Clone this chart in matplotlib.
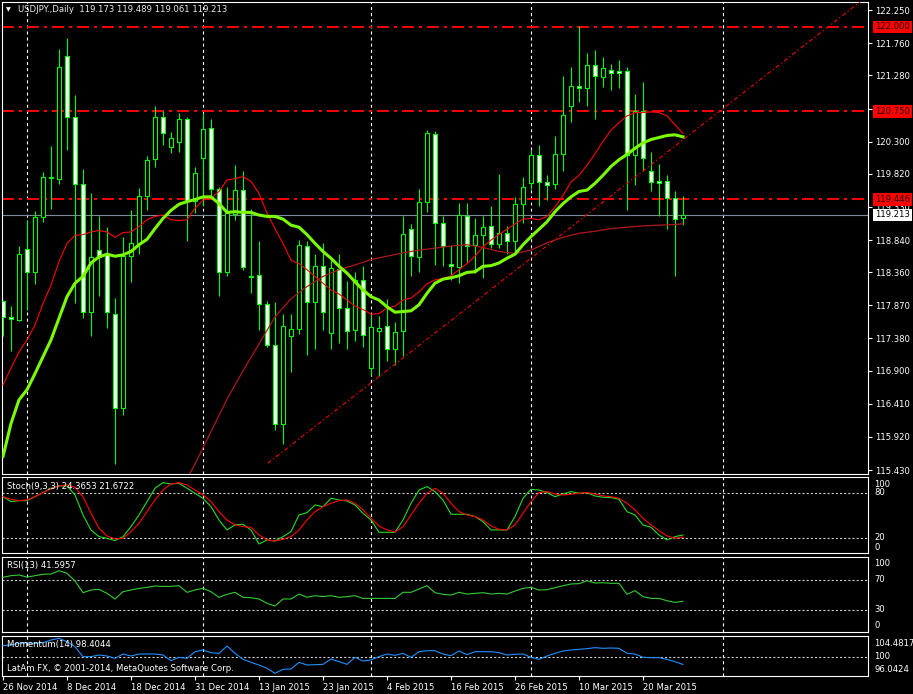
import matplotlib
matplotlib.use('Agg')
import matplotlib.pyplot as plt
import numpy as np

W, H = 913, 694
plt.rcParams['font.family'] = ['DejaVu Sans']
plt.rcParams['lines.scale_dashes'] = False
FS = 6.1

# ---------------- data ----------------
opens = [117.93, 117.70, 117.66, 118.70, 118.36, 119.18, 119.76, 119.75, 121.57, 120.66,
         119.67, 117.78, 118.69, 118.64, 117.75, 116.35, 118.61, 118.79, 119.50, 120.04,
         120.66, 120.22, 120.30, 120.64, 119.42, 120.05, 120.50, 119.60, 118.37, 119.22,
         119.58, 118.31, 118.32, 117.89, 117.29, 116.11, 117.41, 117.52, 118.75, 117.92,
         118.46, 117.46, 118.41, 117.83, 117.50, 118.24, 116.94, 117.49, 117.56, 117.22,
         117.49, 119.00, 118.59, 119.40, 120.41, 119.09, 118.49, 118.44, 119.19, 118.76,
         118.91, 119.05, 118.78, 118.94, 118.82, 119.38, 119.68, 120.10, 119.70, 119.67,
         120.11, 120.82, 121.13, 121.10, 121.43, 121.26, 121.36, 121.35, 121.35, 120.10,
         120.75, 119.86, 119.72, 119.72, 119.46, 119.173]
highs = [117.95, 117.86, 118.75, 119.14, 119.27, 119.85, 120.23, 121.67, 121.83, 120.99,
         119.89, 119.53, 119.19, 119.03, 117.98, 118.88, 119.29, 119.61, 120.08, 120.82,
         120.76, 120.44, 120.73, 120.67, 119.93, 120.73, 120.63, 119.63, 119.63, 119.95,
         119.86, 119.30, 118.83, 117.94, 117.92, 117.74, 117.75, 118.84, 118.82, 118.64,
         118.79, 118.57, 118.63, 118.23, 118.36, 118.45, 117.75, 117.71, 117.96, 117.62,
         119.19, 119.08, 119.59, 120.47, 120.46, 119.20, 118.77, 119.39, 119.39, 119.17,
         119.19, 119.34, 119.82, 119.05, 119.48, 119.78, 120.17, 120.25, 119.80, 120.38,
         121.27, 121.40, 122.01, 121.62, 121.66, 121.55, 121.45, 121.51, 121.41, 121.01,
         121.18, 120.15, 119.97, 119.80, 119.56, 119.489]
lows = [117.41, 117.20, 117.64, 117.80, 118.19, 119.10, 119.30, 119.67, 120.17, 117.90,
        117.68, 117.41, 118.01, 117.53, 115.52, 116.25, 118.22, 118.64, 119.29, 119.93,
        120.25, 120.13, 120.15, 118.83, 119.24, 119.35, 119.50, 118.01, 118.30, 119.14,
        118.39, 118.06, 117.51, 117.26, 116.02, 115.81, 116.89, 117.45, 117.14, 117.22,
        117.50, 117.23, 117.31, 117.22, 117.35, 117.26, 116.84, 116.83, 117.04, 116.99,
        117.12, 118.30, 118.37, 119.26, 118.47, 118.45, 118.25, 118.21, 118.52, 118.35,
        118.27, 118.72, 118.72, 118.64, 118.64, 119.09, 119.60, 119.35, 119.43, 119.60,
        119.87, 120.59, 120.89, 120.83, 120.64, 121.11, 121.07, 121.10, 119.28, 119.65,
        119.87, 119.56, 119.19, 119.00, 118.30, 119.061]
closes = [117.70, 117.67, 118.64, 118.36, 119.18, 119.77, 119.78, 121.40, 120.66, 119.67,
          117.78, 118.59, 118.59, 117.78, 116.35, 118.61, 118.79, 119.49, 120.03, 120.66,
          120.43, 120.36, 120.64, 119.42, 119.83, 120.48, 119.60, 118.36, 119.24, 119.58,
          118.44, 118.29, 117.89, 117.29, 116.11, 117.56, 117.52, 118.77, 117.92, 118.46,
          117.77, 118.42, 117.83, 117.49, 118.25, 117.43, 117.55, 117.53, 117.22, 117.47,
          118.93, 118.60, 119.40, 120.42, 119.09, 118.75, 118.46, 119.21, 118.75, 118.91,
          119.04, 118.78, 118.94, 118.83, 119.38, 119.62, 120.10, 119.70, 119.65, 120.11,
          120.69, 121.13, 121.10, 121.43, 121.27, 121.39, 121.31, 121.31, 120.10, 120.75,
          120.05, 119.70, 119.68, 119.46, 119.15, 119.213]

ma_green = [115.63, 116.12, 116.47, 116.62, 116.86, 117.11, 117.36, 117.68, 118.00, 118.20,
            118.30, 118.50, 118.59, 118.63, 118.60, 118.62, 118.67, 118.77, 118.85, 119.01,
            119.16, 119.28, 119.37, 119.41, 119.44, 119.48, 119.48, 119.38, 119.25, 119.26,
            119.25, 119.25, 119.21, 119.19, 119.19, 119.15, 119.06, 119.03, 118.92, 118.79,
            118.67, 118.57, 118.45, 118.35, 118.22, 118.10, 118.00, 117.95, 117.85, 117.77,
            117.78, 117.79, 117.88, 118.05, 118.20, 118.26, 118.28, 118.31, 118.36, 118.37,
            118.45, 118.46, 118.50, 118.57, 118.63, 118.77, 118.89, 119.00, 119.11, 119.26,
            119.38, 119.48, 119.56, 119.58, 119.68, 119.80, 119.93, 120.03, 120.11, 120.20,
            120.28, 120.33, 120.36, 120.39, 120.40, 120.37]
ma_red = [116.69, 116.94, 117.18, 117.36, 117.58, 117.90, 118.17, 118.52, 118.79, 118.91,
          118.92, 118.96, 118.98, 118.96, 118.88, 118.95, 118.96, 119.04, 119.14, 119.19,
          119.21, 119.14, 119.13, 119.14, 119.31, 119.43, 119.46, 119.56, 119.73, 119.75,
          119.78, 119.71, 119.53, 119.24, 119.01, 118.79, 118.54, 118.49, 118.40, 118.30,
          118.20, 118.10, 118.04, 117.95, 117.86, 117.81, 117.74, 117.75, 117.83, 117.86,
          117.95, 117.98, 118.07, 118.19, 118.25, 118.27, 118.31, 118.40, 118.49, 118.60,
          118.74, 118.84, 118.92, 119.00, 119.08, 119.15, 119.16, 119.14, 119.19, 119.33,
          119.50, 119.70, 119.80, 119.95, 120.12, 120.30, 120.47, 120.58, 120.68, 120.73,
          120.73, 120.74, 120.73, 120.68, 120.55, 120.42]
slow_idx = [22, 23, 24, 26, 28, 30, 32, 34, 36, 38, 40, 42, 44, 46, 48, 50, 52, 54, 56,
            58, 60, 62, 64, 66, 68, 70, 72, 74, 76, 78, 80, 82, 84, 85]
slow_val = [115.10, 115.30, 115.52, 116.00, 116.48, 116.90, 117.30, 117.70, 117.97, 118.15,
            118.30, 118.40, 118.47, 118.55, 118.60, 118.65, 118.69, 118.72, 118.75, 118.77,
            118.73, 118.67, 118.64, 118.69, 118.80, 118.88, 118.94, 118.97, 119.01, 119.03,
            119.05, 119.06, 119.07, 119.08]
trend_idx = [33.1, 108.2]
trend_val = [115.53, 122.47]
levels = [122.000, 120.750, 119.446]
bid = 119.213
price_ticks = [122.25, 121.76, 121.28, 120.79, 120.30, 119.82, 119.33, 118.84, 118.36,
               117.87, 117.38, 116.90, 116.41, 115.92, 115.43]

stoch_k = [75.5, 68.9, 70.2, 70.2, 75.5, 80.9, 86.7, 89.8, 89.8, 77.8,
           51.1, 31.1, 22.2, 20.0, 16.9, 22.2, 35.5, 51.1, 68.9, 86.7,
           94.2, 92.4, 93.3, 86.7, 80.0, 73.3, 62.2, 44.4, 31.1, 37.8,
           38.7, 31.1, 12.4, 17.8, 16.4, 22.2, 28.9, 51.1, 54.2, 64.4,
           62.2, 73.3, 71.1, 69.8, 64.4, 53.3, 44.4, 28.0, 28.0, 28.0,
           44.4, 66.7, 84.4, 88.9, 82.2, 71.1, 52.0, 52.0, 52.0, 48.9,
           42.2, 31.1, 31.1, 31.1, 48.9, 73.3, 85.3, 84.4, 80.9, 75.5,
           79.1, 82.2, 80.0, 80.9, 76.4, 74.7, 74.2, 72.0, 55.5, 51.1,
           37.8, 34.7, 24.4, 17.8, 22.2, 24.4]
stoch_d = [75.5, 72.0, 70.2, 71.1, 75.5, 80.9, 85.8, 89.8, 91.1, 88.0,
           75.5, 53.3, 33.3, 23.1, 19.1, 20.0, 28.9, 40.0, 55.5, 71.1,
           84.4, 92.4, 94.2, 91.1, 84.4, 77.8, 68.9, 55.5, 44.4, 37.8,
           35.5, 34.7, 24.4, 17.8, 16.4, 18.7, 22.2, 31.1, 44.4, 55.5,
           62.2, 66.7, 70.2, 71.1, 66.7, 57.8, 46.7, 36.4, 31.1, 28.4,
           35.5, 51.1, 66.7, 80.0, 86.7, 80.0, 66.7, 55.5, 51.1, 48.9,
           44.4, 36.4, 32.0, 31.1, 37.8, 53.3, 68.9, 80.9, 82.2, 79.1,
           77.8, 78.7, 80.0, 80.9, 79.1, 76.4, 75.5, 73.3, 66.7, 57.8,
           46.7, 37.8, 30.2, 23.1, 20.0, 21.7]
rsi = [73.6, 75.8, 76.7, 74.0, 75.8, 77.6, 78.0, 82.4, 78.9, 68.7,
       53.1, 56.7, 57.6, 52.2, 44.7, 54.4, 56.7, 58.9, 60.2, 62.0,
       61.5, 61.5, 62.4, 53.6, 56.7, 58.9, 54.4, 46.9, 50.9, 53.6,
       46.9, 46.4, 44.7, 38.9, 35.3, 44.7, 44.7, 51.3, 46.9, 49.1,
       47.8, 49.1, 46.9, 47.8, 49.1, 45.5, 45.5, 45.5, 45.5, 45.5,
       53.6, 53.6, 58.0, 62.4, 53.1, 50.9, 50.0, 53.6, 51.3, 52.2,
       53.1, 51.3, 52.2, 51.3, 55.3, 58.9, 60.2, 56.7, 57.1, 59.8,
       62.4, 64.7, 65.1, 69.1, 66.0, 66.4, 65.6, 65.6, 50.9, 55.8,
       47.8, 45.5, 45.5, 42.4, 40.2, 41.6]
momentum = [102.37, 102.51, 102.86, 103.00, 102.86, 103.00, 103.56, 103.92, 103.21, 102.16,
            100.05, 100.05, 100.40, 100.19, 99.70, 100.61, 100.19, 100.61, 100.61, 100.61,
            100.40, 99.21, 99.91, 99.70, 101.10, 101.46, 100.89, 100.75, 102.30, 100.75,
            99.49, 98.85, 98.29, 97.59, 96.53, 97.38, 97.45, 98.85, 98.29, 98.36,
            98.43, 99.56, 98.99, 98.43, 99.91, 99.13, 99.35, 100.05, 100.61, 100.33,
            100.75, 99.91, 101.10, 101.31, 101.31, 100.61, 100.26, 101.24, 100.47, 101.10,
            101.10, 101.10, 100.89, 100.40, 100.54, 100.61, 99.91, 99.49, 100.19, 100.75,
            101.24, 101.46, 101.60, 101.74, 101.95, 101.81, 101.88, 101.81, 100.75, 100.61,
            99.91, 99.84, 99.84, 99.49, 98.99, 98.40]

date_idx = [0, 8, 16, 24, 32, 40, 48, 56, 64, 72, 80]
date_labels = ['26 Nov 2014', '8 Dec 2014', '18 Dec 2014', '31 Dec 2014', '13 Jan 2015',
               '23 Jan 2015', '4 Feb 2015', '16 Feb 2015', '26 Feb 2015', '10 Mar 2015',
               '20 Mar 2015']
month_sep_idx = [3, 25, 46, 66, 90]

# ---------------- figure ----------------
fig = plt.figure(figsize=(W / 100, H / 100), dpi=100, facecolor='black')


def rect(l, t, r, b):
    return [l / W, 1 - b / H, (r - l) / W, (b - t) / H]


ax = fig.add_axes(rect(2, 2, 868, 474))
ax_st = fig.add_axes(rect(2, 477, 868, 553))
ax_rsi = fig.add_axes(rect(2, 557, 868, 632))
ax_mom = fig.add_axes(rect(2, 636, 868, 676))

XL = (-0.125, 108.125)
for a in (ax, ax_st, ax_rsi, ax_mom):
    a.set_facecolor('black')
    a.set_xlim(*XL)
    for s in a.spines.values():
        s.set_color('white')
        s.set_linewidth(0.8)
    a.tick_params(axis='x', bottom=False, labelbottom=False)
    a.tick_params(axis='y', left=False, labelleft=False, right=False, labelright=False)
    for m in month_sep_idx:
        a.axvline(m, color='white', lw=0.8, ls=(0, (2.2, 2.2)), zorder=1)

# ---- main price panel ----
ax.set_ylim(115.371, 122.369)
x = np.arange(len(opens))
o = np.array(opens); c = np.array(closes)
hi = np.array(highs); lo = np.array(lows)
ax.vlines(x, lo, hi, color='#00ff00', lw=0.8, zorder=3)
body_h = np.maximum(np.abs(c - o), 0.012)
fills = ['white' if cc < oo else 'black' for oo, cc in zip(o, c)]
ax.bar(x, body_h, bottom=np.minimum(o, c), width=0.62, color=fills,
       edgecolor='#00ff00', linewidth=0.8, zorder=4)

for lv in levels:
    ax.axhline(lv, color='#ff0000', lw=1.4, ls=(0, (8.6, 3.6, 2.2, 3.6)), zorder=2)
ax.axhline(bid, color='#7a8a9a', lw=0.8, zorder=2)
ax.plot(trend_idx, trend_val, color='#ee0000', lw=0.8, ls=(0, (3.0, 1.8, 1.0, 1.8)), zorder=5)
ax.plot(slow_idx, slow_val, color='#b01818', lw=0.9, zorder=5)
ax.plot(x, ma_red, color='#ff0000', lw=0.8, zorder=6)
ax.plot(x, ma_green, color='#7cfc00', lw=2.2, zorder=6)

ax.yaxis.set_ticks_position('right')
ax.set_yticks(price_ticks)
ax.set_yticklabels([f'{t:.3f}' for t in price_ticks])
ax.tick_params(axis='y', right=True, labelright=True, direction='out', length=3,
               width=0.8, color='white', labelcolor='white', labelsize=FS, pad=2)

for lv in levels:
    ax.annotate(f'{lv:.3f}', xy=(1, lv), xycoords=('axes fraction', 'data'),
                xytext=(5.0, 0), textcoords='offset points', ha='left', va='center',
                fontsize=FS, color='#200000', annotation_clip=False, zorder=10,
                bbox=dict(boxstyle='square,pad=0.22', fc='#ff0000', ec='none'))
ax.annotate(f'{bid:.3f}', xy=(1, bid), xycoords=('axes fraction', 'data'),
            xytext=(5.0, 0), textcoords='offset points', ha='left', va='center',
            fontsize=FS, color='black', annotation_clip=False, zorder=11,
            bbox=dict(boxstyle='square,pad=0.22', fc='white', ec='none'))


def ftext(px, py, s, **kw):
    fig.text(px / W, 1 - py / H, s, fontsize=kw.pop('fontsize', FS),
             color=kw.pop('color', 'white'), va='center', ha=kw.pop('ha', 'left'), **kw)


ftext(6, 10, '\u25bc', fontsize=4.5)
ftext(18, 10, f'USDJPY.,Daily  {opens[-1]:.3f} {highs[-1]:.3f} {lows[-1]:.3f} {closes[-1]:.3f}',
      color='#e8e8e8')

# ---- stochastic ----
ax_st.set_ylim(0.4, 101.7)
for lv in (80, 20):
    ax_st.axhline(lv, color='#d0d0d0', lw=0.8, ls=(0, (1.5, 1.5)), zorder=1)
ax_st.plot(x, stoch_k, color='#22dd22', lw=0.8, zorder=3)
ax_st.plot(x, stoch_d, color='#ff0000', lw=0.8, zorder=4)
ftext(7, 486, 'Stoch(9,3,3) 24.3653 21.6722')
for lab, py in (('100', 484.5), ('80', 492.5), ('20', 538), ('0', 548)):
    ftext(874, py, lab)

# ---- RSI ----
ax_rsi.set_ylim(0.67, 100.7)
for lv in (70, 30):
    ax_rsi.axhline(lv, color='#d0d0d0', lw=0.8, ls=(0, (1.5, 1.5)), zorder=1)
ax_rsi.plot(x, rsi, color='#33cc33', lw=0.8, zorder=3)
ftext(7, 565.5, 'RSI(13) 41.5957')
for lab, py in (('100', 564), ('70', 579.5), ('30', 609.5), ('0', 626)):
    ftext(874, py, lab)

# ---- Momentum ----
ax_mom.set_ylim(95.97, 104.41)
ax_mom.axhline(100, color='#d0d0d0', lw=0.8, ls=(0, (1.5, 1.5)), zorder=1)
ax_mom.plot(x, momentum, color='#1e90ff', lw=0.8, zorder=3)
ftext(7, 645, 'Momentum(14) 98.4044')
ftext(7, 668.5, 'LatAm FX, \u00a9 2001-2014, MetaQuotes Software Corp.')
for lab, py in (('104.4817', 643), ('100', 656.5), ('96.0424', 669.5)):
    ftext(874, py, lab)

ax_mom.set_xticks(date_idx)
ax_mom.set_xticklabels(date_labels, ha='left')
ax_mom.tick_params(axis='x', bottom=True, labelbottom=True, direction='out', length=3,
                   width=0.8, color='white', labelcolor='white', labelsize=FS, pad=2)

fig.savefig('out.png', dpi=100, facecolor='black')
